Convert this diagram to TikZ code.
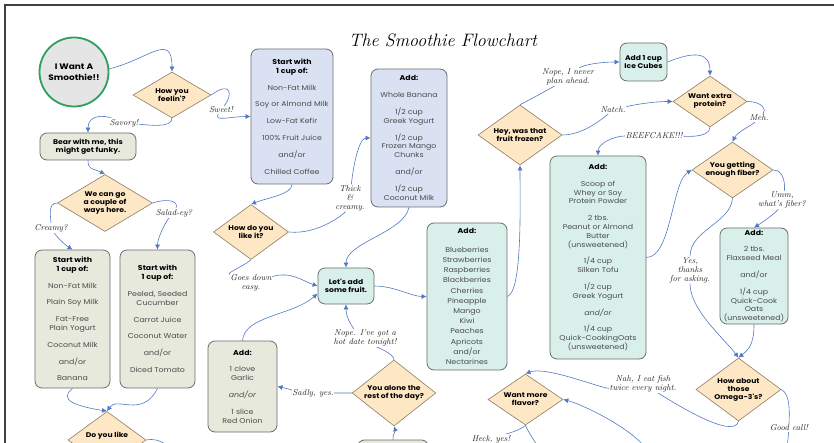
\documentclass[tikz,border=0pt]{standalone}
\usepackage{fontspec}
\newfontfamily\gothic{Poppins}[FakeStretch=1.12]
\usepackage{tikz}
\usetikzlibrary{shapes.geometric,arrows.meta,positioning,calc,backgrounds}
\usepackage{xcolor}

\definecolor{askfill}{RGB}{254,231,196}
\definecolor{askedge}{RGB}{140,125,100}
\definecolor{sagefill}{RGB}{231,233,221}
\definecolor{bluefill}{RGB}{218,225,243}
\definecolor{mintfill}{RGB}{217,240,234}
\definecolor{boxedge}{RGB}{105,110,110}
\definecolor{linkblue}{RGB}{80,120,195}
\definecolor{startgreen}{RGB}{46,160,92}
\definecolor{itemgray}{RGB}{75,75,75}

\newcommand{\boxhead}[1]{{\bfseries\color{black}#1}}

\begin{document}
\begin{tikzpicture}[x=1pt, y=-1pt,
    ask/.style={diamond, aspect=1.6, draw=askedge, fill=askfill, line width=0.6pt, inner sep=0pt, align=center, font=\gothic\bfseries\fontsize{6.8}{8}\selectfont},
    card/.style={rectangle, rounded corners=7pt, draw=boxedge, line width=0.8pt, align=center, inner sep=1pt, text=itemgray, font=\gothic\fontsize{7}{8.8}\selectfont},
    says/.style={fill=white, inner sep=0.6pt, align=center, text=black!85, font=\itshape\fontsize{8.5}{9}\selectfont},
    flow/.style={draw=linkblue, line width=0.6pt, -{Latex[length=5pt,width=5pt]}}]
\useasboundingbox (0,0) rectangle (834,443);
\draw[line width=1.4pt, black!75] (5,470) -- (5,5) -- (860,5);

% title
\node[font=\itshape\fontsize{18}{20}\selectfont] (title) at (443,40) {The Smoothie Flowchart};

% left column
\node[circle, draw=startgreen, line width=1.8pt, fill=black!10, minimum size=69pt, inner sep=0pt, align=center, font=\gothic\bfseries\fontsize{8}{10.5}\selectfont] (start) at (74,72) {I Want A\\Smoothie!!};
\node[ask, minimum width=78pt, minimum height=46pt] (feel) at (172,95) {How you\\feelin'?};
\node[card, fill=sagefill, minimum width=96pt, minimum height=27pt, text=black, font=\gothic\bfseries\fontsize{6.8}{8.2}\selectfont] (bear) at (88,146.5) {Bear with me, this\\might get funky.};
\node[ask, minimum width=95pt, minimum height=57pt] (ways) at (105,203) {We can go\\a couple of\\ways here.};
\node[card, fill=sagefill, minimum width=75pt, minimum height=138pt] (creamy) at (72.5,319) {\boxhead{Start with}\\\boxhead{1 cup of:}\\[8pt]Non-Fat Milk\\[8pt]Plain Soy Milk\\[8pt]Fat-Free\\Plain Yogurt\\[8pt]Coconut Milk\\[8pt]and/or\\[8pt]Banana};
\node[card, fill=sagefill, minimum width=75pt, minimum height=138pt] (salad) at (157.5,319) {\boxhead{Start with}\\\boxhead{1 cup of:}\\[8pt]Peeled, Seeded\\Cucumber\\[8pt]Carrot Juice\\[8pt]Coconut Water\\[8pt]and/or\\[8pt]Diced Tomato};
\node[ask, minimum width=78pt, minimum height=57pt] (likeveg) at (107,440) {Do you like\\\strut};
\coordinate (vegout) at (180,458);

% middle
\node[card, fill=bluefill, minimum width=82pt, minimum height=135pt] (milk) at (292,116.5) {\boxhead{Start with}\\\boxhead{1 cup of:}\\[8pt]Non-Fat Milk\\[8pt]Soy or Almond Milk\\[8pt]Low-Fat Kefir\\[8pt]100\% Fruit Juice\\[8pt]and/or\\[8pt]Chilled Coffee};
\node[ask, minimum width=75pt, minimum height=55pt] (likeit) at (251,232) {How do you\\like it?};
\node[card, fill=bluefill, minimum width=76pt, minimum height=138pt] (banana) at (409,138) {\boxhead{Add:}\\[8pt]Whole Banana\\[8pt]1/2 cup\\Greek Yogurt\\[8pt]1/2 cup\\Frozen Mango\\Chunks\\[8pt]and/or\\[8pt]1/2 cup\\Coconut Milk};
\node[card, fill=mintfill, minimum width=56pt, minimum height=36pt, text=black, font=\gothic\bfseries\fontsize{6.8}{8.6}\selectfont] (fruit) at (346,286) {Let's add\\some fruit.};
\node[card, fill=sagefill, minimum width=69pt, minimum height=91pt] (garlic) at (242.5,386.5) {\boxhead{Add:}\\[8pt]1 clove\\Garlic\\[8pt]\textit{and/or}\\[8pt]1 slice\\Red Onion};
\node[ask, minimum width=83pt, minimum height=66pt] (alone) at (394,393) {You alone the\\rest of the day?};
\node[card, fill=sagefill, minimum width=71pt, minimum height=70pt] (lastbox) at (393,475) {};
\node[card, fill=mintfill, minimum width=80pt, minimum height=147pt] (berries) at (467,296.5) {\boxhead{Add:}\\[10pt]Blueberries\\[1.4pt]Strawberries\\[1.4pt]Raspberries\\[1.4pt]Blackberries\\[1.4pt]Cherries\\[1.4pt]Pineapple\\[1.4pt]Mango\\[1.4pt]Kiwi\\[1.4pt]Peaches\\[1.4pt]Apricots\\[1.4pt]and/or\\[1.4pt]Nectarines};
\node[ask, minimum width=84pt, minimum height=60pt] (frozen) at (520,135) {Hey, was that\\fruit frozen?};
\node[ask, minimum width=75pt, minimum height=51pt] (flavor) at (525.5,399.5) {Want more\\flavor?};
\coordinate (heckout) at (455,452);
\coordinate (flavorout) at (540,455);

% right column
\node[card, fill=mintfill, minimum width=47pt, minimum height=38pt, text=black, font=\gothic\bfseries\fontsize{6.8}{8.6}\selectfont] (ice) at (643.5,62) {Add 1 cup\\Ice Cubes};
\node[ask, minimum width=74pt, minimum height=51pt] (protein) at (710,101.5) {Want extra\\protein?};
\node[card, fill=mintfill, minimum width=96pt, minimum height=203pt] (scoop) at (598,257.5) {\boxhead{Add:}\\[8pt]Scoop of\\Whey or Soy\\Protein Powder\\[8pt]2 tbs.\\Peanut or Almond\\Butter\\(unsweetened)\\[8pt]1/4 cup\\Silken Tofu\\[8pt]1/2 cup\\Greek Yogurt\\[8pt]\textit{and/or}\\[8pt]1/4 cup\\Quick-CookingOats\\(unsweetened)};
\node[ask, minimum width=81pt, minimum height=56pt] (fiber) at (732.5,170) {You getting\\enough fiber?};
\node[card, fill=mintfill, minimum width=68pt, minimum height=96pt] (flax) at (754,276) {\boxhead{Add:}\\[8pt]2 tbs.\\Flaxseed Meal\\[8pt]and/or\\[8pt]1/4 cup\\Quick-Cook\\Oats\\(unsweetened)};
\node[ask, minimum width=85pt, minimum height=63pt] (omega) at (738.5,389.5) {How about\\those\\Omega-3's?};
\coordinate (fishout) at (652,460);
\coordinate (goodout) at (786,460);

% answers
\node[says] (lsavory) at (124,123) {Savory!};
\node[says] (lsweet) at (221,110) {Sweet!};
\node[says] (lcreamy) at (51,228) {Creamy?};
\node[says] (lsalad) at (174,213) {Salad-ey?};
\node[says] (lthick) at (350,198) {Thick\\\&\\creamy.};
\node[says] (lgoes) at (251,283) {Goes down\\easy.};
\node[says] (lnope) at (365,338) {Nope. I've got a\\hot date tonight!};
\node[says] (lsadly) at (313,393) {Sadly, yes.};
\node[says] (lnever) at (568,77) {Nope, I never\\plan ahead.};
\node[says] (lnatch) at (613,110) {Natch.};
\node[says] (lbeef) at (654,136) {BEEFCAKE!!!};
\node[says] (lmeh) at (759,118) {Meh.};
\node[says] (lumm) at (782,200) {Umm,\\what's fiber?};
\node[says] (lyes) at (690,270) {Yes,\\thanks\\for asking.};
\node[says] (lnah) at (643,384) {Nah, I eat fish\\twice every night.};
\node[says] (lgood) at (789,428) {Good call!};
\node[says] (lheck) at (491,439) {Heck, yes!};

\begin{scope}[on background layer]
\draw[flow] (start.5) .. controls +(40,-10) and +(0,-40) .. (feel.north);
\draw[flow] (feel.south) .. controls +(0,10) and +(25,2) .. (lsavory) .. controls +(-20,-8) and +(0,-18) .. (bear.north);
\draw[flow] (feel.east) .. controls +(20,-15) and +(12,-15) .. (lsweet) .. controls +(-8,12) and +(-20,0) .. (milk.west);
\draw[flow] (bear.south) .. controls +(0,10) and +(-12,-6) .. (ways.north);
\draw[flow] (ways.west) .. controls +(-10,0) and +(0,-10) .. (lcreamy) .. controls +(5,8) and +(-8,-5) .. (creamy.north);
\draw[flow] (ways.east) .. controls +(15,-5) and +(5,-12) .. (lsalad) .. controls +(-8,8) and +(0,-12) .. (salad.north);
\draw[flow] (creamy.south) .. controls +(-15,12) and +(-30,-5) .. (likeveg.north);
\draw[flow] (salad.south) .. controls +(-15,30) and +(10,-15) .. (likeveg.north);
\draw[flow] (likeveg.east) .. controls +(15,-3) and +(-10,-10) .. (vegout);
\draw[flow] (milk.south) .. controls +(0,10) and +(15,-6) .. (likeit.north);
\draw[flow] (likeit.east) .. controls +(30,3) and +(-5,15) .. (lthick) .. controls +(3,-30) and +(-12,0) .. (banana.west);
\draw[flow] (likeit.south) .. controls +(-10,8) and +(-25,-10) .. (lgoes) .. controls +(40,-12) and +(-15,-5) .. (fruit.west);
\draw[flow] (banana.south) .. controls +(-5,25) and +(0,-25) .. (fruit.north);
\draw[flow] (fruit.east) .. controls +(20,0) and +(-15,0) .. (berries.west);
\draw[flow] (garlic.north) .. controls +(2,-25) and +(-25,22) .. (fruit.195);
\draw[flow] (alone.north) .. controls +(0,-6) and +(10,8) .. (lnope) .. controls +(-10,-8) and +(0,15) .. (fruit.south);
\draw[flow] (alone.west) .. controls +(-10,0) and +(10,0) .. (lsadly) .. controls +(-10,0) and +(10,2) .. (garlic.east);
\draw[flow] (lastbox.north) .. controls +(0,-8) and +(2,6) .. (alone.south);
\draw[flow] (berries.east) .. controls +(15,-5) and +(0,40) .. (frozen.south);
\draw[flow] (frozen.north) .. controls +(10,-5) and +(-15,10) .. (lnever) .. controls +(15,-12) and +(-20,0) .. (ice.west);
\draw[flow] (ice.east) .. controls +(25,-10) and +(0,-25) .. (protein.north);
\draw[flow] (frozen.east) .. controls +(20,0) and +(-12,10) .. (lnatch) .. controls +(20,-5) and +(-20,0) .. (protein.west);
\draw[flow] (protein.south) .. controls +(0,12) and +(25,0) .. (lbeef) .. controls +(-40,0) and +(0,-12) .. (scoop.north);
\draw[flow] (protein.east) .. controls +(15,0) and +(8,-8) .. (lmeh) .. controls +(-8,8) and +(5,-10) .. (fiber.north);
\draw[flow] (scoop.east) .. controls +(25,0) and +(-20,12) .. (fiber.west);
\draw[flow] (fiber.east) .. controls +(12,0) and +(3,-12) .. (lumm) .. controls +(-5,12) and +(8,-5) .. (flax.north);
\draw[flow] (fiber.south) .. controls +(-2,25) and +(0,-40) .. (lyes) .. controls +(0,40) and +(-15,-20) .. (omega.north);
\draw[flow] (flax.south) .. controls +(0,20) and +(10,-8) .. (omega.north);
\draw[flow] (omega.south) .. controls +(-5,20) and +(25,15) .. (lnah) .. controls +(-40,5) and +(20,-8) .. (flavor.north);
\draw[flow] (fishout) .. controls +(-5,-25) and +(20,5) .. (flavor.east);
\draw[flow] (omega.east) .. controls +(10,5) and +(0,-12) .. (lgood) -- (goodout);
\draw[flow] (flavor.south) .. controls +(-5,5) and +(15,-5) .. (lheck) -- (heckout);
\draw[flow] (flavor.south) .. controls +(3,8) and +(-2,-10) .. (flavorout);
\end{scope}
\end{tikzpicture}
\end{document}
